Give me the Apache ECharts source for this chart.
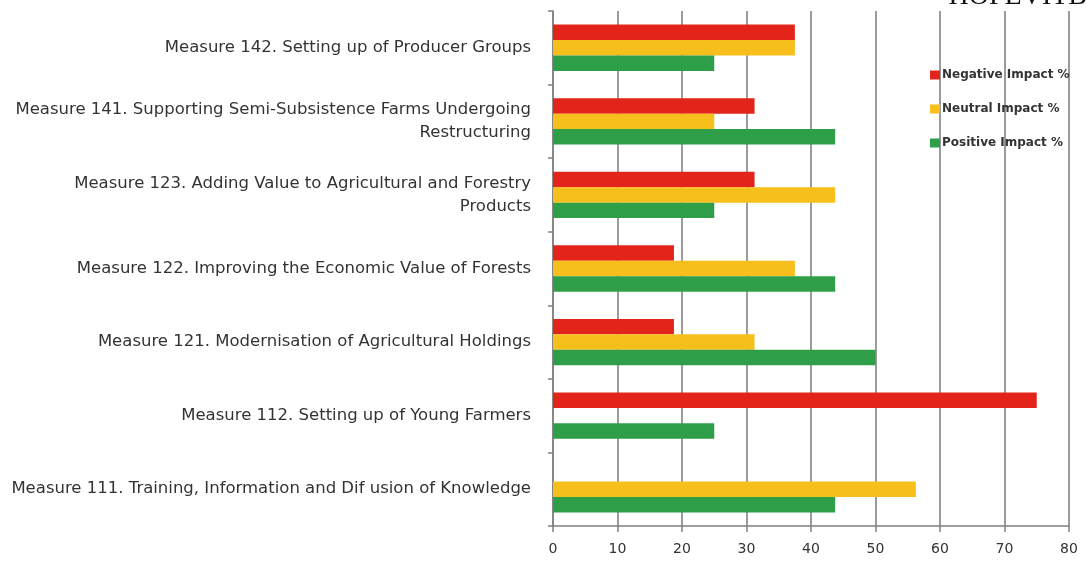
<!DOCTYPE html>
<html>
<head>
<meta charset="utf-8">
<script src="https://cdn.jsdelivr.net/npm/echarts@6/dist/echarts.min.js"></script>
<style>
  html, body { margin: 0; padding: 0; background: #fff; }
  #chart { width: 1086px; height: 567px; }
</style>
</head>
<body>
<div id="chart"></div>
<script>
// categories, bottom to top
const categories = [
  'Measure 111. Training, Information and Dif usion of Knowledge',
  'Measure 112. Setting up of Young Farmers',
  'Measure 121. Modernisation of Agricultural Holdings',
  'Measure 122. Improving the Economic Value of Forests',
  'Measure 123. Adding Value to Agricultural and Forestry\nProducts',
  'Measure 141. Supporting Semi-Subsistence Farms Undergoing\nRestructuring',
  'Measure 142. Setting up of Producer Groups'
]

const negativeImpact = [0, 75, 18.75, 18.75, 31.25, 31.25, 37.5]
const neutralImpact = [56.25, 0, 31.25, 37.5, 43.75, 25, 37.5]
const positiveImpact = [43.75, 25, 50, 43.75, 25, 43.75, 25]

const seriesNames = ['Negative Impact %', 'Neutral Impact %', 'Positive Impact %']
const xTicks = [0, 10, 20, 30, 40, 50, 60, 70, 80]

const chart = echarts.init(document.getElementById('chart'))

const labelFont = 'DejaVu Sans'

chart.setOption({
  animation: false,
  backgroundColor: '#fff',
  // page header cut off at the top edge
  title: {
    text: 'HOPEVITB',
    right: -6,
    top: -22,
    textStyle: {
      fontFamily: 'Liberation Serif',
      fontSize: 28,
      fontWeight: 'normal',
      color: '#111'
    }
  },
  grid: {
    left: 553,
    right: 17,
    top: 11,
    bottom: 41,
    containLabel: false
  },
  legend: {
    data: seriesNames,
    orient: 'vertical',
    left: 925,
    top: 64,
    itemWidth: 10,
    itemHeight: 9,
    itemGap: 22,
    icon: 'rect',
    textStyle: {
      fontFamily: labelFont,
      fontSize: 12,
      fontWeight: 'bold',
      color: '#333',
      padding: [0, 0, 0, -3]
    }
  },
  xAxis: {
    type: 'value',
    min: xTicks[0],
    max: xTicks[xTicks.length - 1],
    interval: 10,
    axisLine: { show: true, lineStyle: { color: '#808080', width: 1.5 } },
    axisTick: { show: true, length: 6, lineStyle: { color: '#808080', width: 1.5 } },
    axisLabel: {
      margin: 16,
      fontFamily: labelFont,
      fontSize: 14,
      color: '#333'
    },
    splitLine: { show: true, lineStyle: { color: '#7a7a7a', width: 1.5 } }
  },
  yAxis: {
    type: 'category',
    data: categories,
    axisLine: { show: true, lineStyle: { color: '#808080', width: 1.5 } },
    axisTick: { show: true, length: 5, lineStyle: { color: '#808080', width: 1.5 } },
    axisLabel: {
      margin: 22,
      fontFamily: labelFont,
      fontSize: 16.5,
      color: '#333',
      lineHeight: 23,
      align: 'right'
    }
  },
  series: [
    {
      name: seriesNames[0],
      type: 'bar',
      data: negativeImpact,
      itemStyle: { color: '#e3241b' },
      barGap: '0%',
      barCategoryGap: '37%'
    },
    {
      name: seriesNames[1],
      type: 'bar',
      data: neutralImpact,
      itemStyle: { color: '#f6bf1b' },
      barGap: '0%',
      barCategoryGap: '37%'
    },
    {
      name: seriesNames[2],
      type: 'bar',
      data: positiveImpact,
      itemStyle: { color: '#2f9e48' },
      barGap: '0%',
      barCategoryGap: '37%'
    }
  ]
})
</script>
</body>
</html>
